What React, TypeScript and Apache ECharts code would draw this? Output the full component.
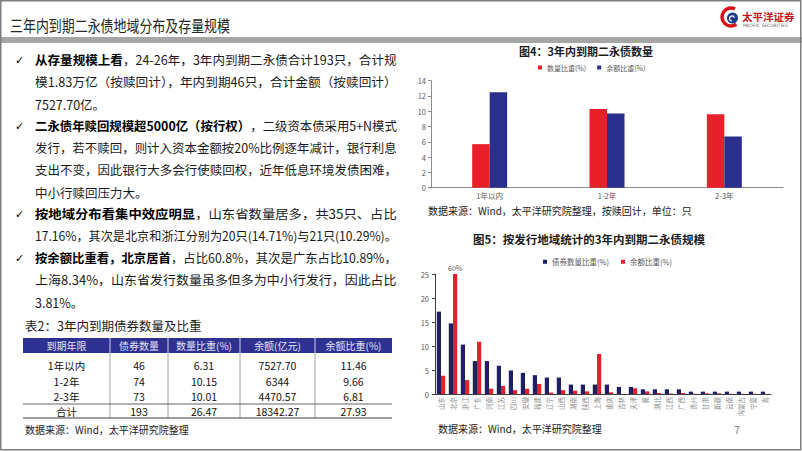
import React, { useEffect, useRef } from 'react';
import * as echarts from 'echarts';

const FONT = '"Noto Sans CJK SC", "Noto Sans", sans-serif';

// ---------- Figure 4 data ----------
const fig4Categories = ['1年以内', '1-2年', '2-3年'];
const fig4CountShare = [5.7, 10.3, 9.6];
const fig4BalanceShare = [12.5, 9.7, 6.7];

// ---------- Figure 5 data ----------
const fig5Provinces = ['山东', '北京', '浙江', '广东', '河南', '江苏', '四川', '安徽', '福建', '辽宁', '山西', '湖南', '陕西', '上海', '重庆', '吉林', '天津', '冀', '湖北', '江西', '广西', '贵州', '甘肃', '新疆', '云南', '内蒙古', '宁夏', '青'];
const fig5CountShare = [17.16, 14.71, 10.29, 6.86, 6.86, 5.88, 4.9, 4.41, 3.92, 3.43, 3.43, 1.96, 1.96, 1.96, 1.96, 1.47, 1.47, 0.98, 0.98, 0.98, 0.98, 0.49, 0.49, 0.49, 0.49, 0.49, 0.49, 0.49];
const fig5BalanceShare = [3.81, 60.8, 2.9, 10.89, 1.1, 1.7, 0.8, 1.1, 2.1, 0.3, 0.8, 0.7, 0.55, 8.34, 0.35, 0.03, 1.2, 0.55, 0.2, 0.1, 0.2, 0.05, 0.15, 0.15, 0.04, 0.04, 0.03, 0.03];
const fig5YMax = 25;

// ---------- Table data ----------
const tableHeader = ['到期年限', '债券数量', '数量比重(%)', '余额(亿元)', '余额比重(%)'];
const tableTerms = ['1年以内', '1-2年', '2-3年', '合计'];
const tableCounts = ['46', '74', '73', '193'];
const tableCountShare = ['6.31', '10.15', '10.01', '26.47'];
const tableBalance = ['7527.70', '6344', '4470.57', '18342.27'];
const tableBalanceShare = ['11.46', '9.66', '6.81', '27.93'];

// ---------- Body text ----------
type Seg = { t: string; b?: boolean };
type Line = { segs: Seg[]; check?: boolean; justify: boolean };
const bodyLines: Line[] = [
  { check: true, justify: true, segs: [{ t: '从存量规模上看', b: true }, { t: '，24-26年，3年内到期二永债合计193只，合计规' }] },
  { justify: true, segs: [{ t: '模1.83万亿（按赎回计），年内到期46只，合计金额（按赎回计）' }] },
  { justify: false, segs: [{ t: '7527.70亿。' }] },
  { check: true, justify: true, segs: [{ t: '二永债年赎回规模超5000亿（按行权）', b: true }, { t: '，二级资本债采用5+N模式' }] },
  { justify: true, segs: [{ t: '发行，若不赎回，则计入资本金额按20%比例逐年减计，银行利息' }] },
  { justify: true, segs: [{ t: '支出不变，因此银行大多会行使赎回权，近年低息环境发债困难，' }] },
  { justify: false, segs: [{ t: '中小行赎回压力大。' }] },
  { check: true, justify: true, segs: [{ t: '按地域分布看集中效应明显', b: true }, { t: '，山东省数量居多，共35只、占比' }] },
  { justify: true, segs: [{ t: '17.16%，其次是北京和浙江分别为20只(14.71%)与21只(10.29%)。' }] },
  { check: true, justify: true, segs: [{ t: '按余额比重看，北京居首', b: true }, { t: '，占比60.8%，其次是广东占比10.89%，' }] },
  { justify: true, segs: [{ t: '上海8.34%，山东省发行数量虽多但多为中小行发行，因此占比' }] },
  { justify: false, segs: [{ t: '3.81%。' }] },
];

const RED = '#E8202A';
const BLUE4 = '#2B2E8C';
const NAVY5 = '#1E1F66';

function measure(segs: Seg[], size: number): number {
  const c = document.createElement('canvas').getContext('2d');
  if (!c) return 0;
  let w = 0;
  for (const s of segs) {
    c.font = `${s.b ? 'bold' : 'normal'} ${size}px "Noto Sans CJK SC"`;
    w += c.measureText(s.t).width;
  }
  return w;
}

function buildGraphics(): any[] {
  const g: any[] = [];
  // frame
  g.push({ type: 'rect', shape: { x: 0.75, y: 0.75, width: 800, height: 449 }, style: { fill: 'none', stroke: '#7f7f7f', lineWidth: 1.5 }, z: 100 });
  // title
  const titleText = '三年内到期二永债地域分布及存量规模';
  const tSize = 16;
  const tW = measure([{ t: titleText }], tSize) || 272;
  g.push({ type: 'text', x: 10, y: 25, scaleX: 220 / tW, style: { text: titleText, fontSize: tSize, fontFamily: FONT, fill: '#262626', verticalAlign: 'middle' } });
  // gray band
  g.push({ type: 'rect', shape: { x: 0, y: 37, width: 802, height: 6 }, style: { fill: '#A6A6A6' } });
  // logo
  g.push({ type: 'arc', shape: { cx: 731, cy: 17, r: 9, startAngle: Math.PI * 0.3, endAngle: Math.PI * 1.65 }, style: { stroke: '#D7141A', lineWidth: 3.5, fill: 'none' } });
  g.push({ type: 'circle', shape: { cx: 732.5, cy: 18, r: 5.5 }, style: { fill: '#1E3C8C' } });
  g.push({ type: 'arc', shape: { cx: 732, cy: 18.5, r: 2.5, startAngle: Math.PI * 0.5, endAngle: Math.PI * 1.9 }, style: { stroke: '#fff', lineWidth: 1.2, fill: 'none' } });
  g.push({ type: 'text', x: 742, y: 16, style: { text: '太平洋证券', fontSize: 10.5, fontWeight: 'bold', fontFamily: FONT, fill: '#C8161D', verticalAlign: 'middle' } });
  g.push({ type: 'text', x: 743, y: 25, style: { text: 'PACIFIC SECURITIES', fontSize: 4.5, fontFamily: 'DejaVu Sans', fill: '#666', verticalAlign: 'middle' } });

  // body text
  const size = 12.5;
  const y0 = 60;
  const dy = 22;
  const target = 362;
  bodyLines.forEach((ln, i) => {
    const y = y0 + i * dy;
    if (ln.check) {
      g.push({ type: 'text', x: 15, y, style: { text: '✓', fontSize: 11, fontFamily: '"DejaVu Sans"', fill: '#000', verticalAlign: 'middle' } });
    }
    const w = measure(ln.segs, size);
    let sx = 1;
    if (ln.justify && w > 0) sx = Math.max(0.85, Math.min(1.15, target / w));
    const text = ln.segs.map((s) => (s.b ? `{b|${s.t}}` : s.t)).join('');
    g.push({
      type: 'text', x: 35, y, scaleX: sx,
      style: {
        text, fontSize: size, fontFamily: FONT, fill: '#1a1a1a', verticalAlign: 'middle',
        rich: { b: { fontSize: size, fontFamily: FONT, fontWeight: 'bold', fill: '#000' } },
      },
    });
  });

  // table
  g.push({ type: 'text', x: 25, y: 325, style: { text: '表2：3年内到期债券数量及比重', fontSize: 12.5, fontFamily: FONT, fill: '#1a1a1a', verticalAlign: 'middle' } });
  const colX = [23, 110, 168, 240, 315, 392];
  const hTop = 338, hBot = 353;
  g.push({ type: 'rect', shape: { x: colX[0], y: hTop, width: colX[5] - colX[0], height: hBot - hTop }, style: { fill: '#2E3192' } });
  for (let c = 1; c < 5; c++) {
    g.push({ type: 'line', shape: { x1: colX[c], y1: hTop, x2: colX[c], y2: hBot }, style: { stroke: '#ffffff', lineWidth: 0.8 } });
    g.push({ type: 'line', shape: { x1: colX[c], y1: hBot, x2: colX[c], y2: 418 }, style: { stroke: '#8c8c8c', lineWidth: 0.8 } });
  }
  tableHeader.forEach((h, c) => {
    g.push({ type: 'text', x: (colX[c] + colX[c + 1]) / 2, y: (hTop + hBot) / 2, style: { text: h, fontSize: 10, fontFamily: FONT, fill: '#E2E2F4', align: 'center', verticalAlign: 'middle' } });
  });
  const rowY = [365, 381, 396, 411.5];
  const cols = [tableTerms, tableCounts, tableCountShare, tableBalance, tableBalanceShare];
  rowY.forEach((y, r) => {
    cols.forEach((col, c) => {
      g.push({ type: 'text', x: (colX[c] + colX[c + 1]) / 2, y, style: { text: col[r], fontSize: 10.5, fontFamily: FONT, fill: '#111', align: 'center', verticalAlign: 'middle' } });
    });
  });
  g.push({ type: 'line', shape: { x1: colX[0], y1: 404, x2: colX[5], y2: 404 }, style: { stroke: '#404040', lineWidth: 0.8 } });
  g.push({ type: 'line', shape: { x1: colX[0], y1: 418, x2: colX[5], y2: 418 }, style: { stroke: '#404040', lineWidth: 1 } });
  g.push({ type: 'text', x: 25, y: 429, style: { text: '数据来源：Wind，太平洋研究院整理', fontSize: 10, fontFamily: FONT, fill: '#1a1a1a', verticalAlign: 'middle' } });

  // figure titles & sources
  g.push({ type: 'text', x: 586, y: 51, style: { text: '图4：3年内到期二永债数量', fontSize: 11, fontWeight: 'bold', fontFamily: FONT, fill: '#1a1a1a', align: 'center', verticalAlign: 'middle' } });
  g.push({ type: 'text', x: 428, y: 210, style: { text: '数据来源：Wind，太平洋研究院整理，按赎回计，单位：只', fontSize: 10, fontFamily: FONT, fill: '#1a1a1a', verticalAlign: 'middle' } });
  g.push({ type: 'text', x: 589, y: 239, style: { text: '图5：按发行地域统计的3年内到期二永债规模', fontSize: 11.5, fontWeight: 'bold', fontFamily: FONT, fill: '#1a1a1a', align: 'center', verticalAlign: 'middle' } });
  g.push({ type: 'text', x: 438, y: 428, style: { text: '数据来源：Wind，太平洋研究院整理', fontSize: 10, fontFamily: FONT, fill: '#1a1a1a', verticalAlign: 'middle' } });
  g.push({ type: 'text', x: 737, y: 429, style: { text: '7', fontSize: 11, fontFamily: FONT, fill: '#8c8c8c', align: 'center', verticalAlign: 'middle' } });
  return g;
}

function buildOption(): any {
  const legendText = { fontSize: 7, color: '#595959', fontFamily: FONT };
  return {
    animation: false,
    backgroundColor: '#ffffff',
    textStyle: { fontFamily: FONT },
    legend: [
      {
        left: 538, top: 64, padding: 0, itemWidth: 4, itemHeight: 4, itemGap: 11, icon: 'rect',
        data: ['数量比重(%)', '余额比重(%)'], textStyle: legendText,
      },
      {
        left: 543, top: 258, padding: 0, itemWidth: 4, itemHeight: 4, itemGap: 12, icon: 'rect',
        data: ['债券数量比重(%)', 'fig5余额'], textStyle: { ...legendText, fontSize: 7.5 },
        formatter: (n: string) => (n === 'fig5余额' ? '余额比重(%)' : n),
      },
    ],
    grid: [
      { left: 431, top: 80.7, width: 352, height: 107 },
      { left: 435, top: 274, width: 336, height: 120 },
    ],
    xAxis: [
      {
        type: 'category', gridIndex: 0, data: fig4Categories,
        axisLine: { lineStyle: { color: '#8c8c8c' } },
        axisTick: { length: 3, lineStyle: { color: '#8c8c8c' } },
        axisLabel: { fontSize: 7.5, color: '#595959', margin: 4 },
      },
      {
        type: 'category', gridIndex: 1, data: fig5Provinces,
        axisLine: { lineStyle: { color: '#404040' } },
        axisTick: { length: 2, lineStyle: { color: '#404040' } },
        axisLabel: { rotate: 90, fontSize: 6.5, color: '#8c8c8c', margin: 3, interval: 0 },
      },
    ],
    yAxis: [
      {
        type: 'value', gridIndex: 0, min: 0, max: 14, interval: 2,
        splitLine: { show: false },
        axisLine: { show: true, lineStyle: { color: '#8c8c8c' } },
        axisTick: { show: true, length: 3, lineStyle: { color: '#8c8c8c' } },
        axisLabel: { fontSize: 7.5, color: '#595959', margin: 5 },
      },
      {
        type: 'value', gridIndex: 1, min: 0, max: fig5YMax, interval: 5,
        splitLine: { show: false },
        axisLine: { show: true, lineStyle: { color: '#404040' } },
        axisTick: { show: true, length: 3, lineStyle: { color: '#404040' } },
        axisLabel: { fontSize: 7.5, color: '#595959', margin: 6 },
      },
    ],
    series: [
      {
        name: '数量比重(%)', type: 'bar', xAxisIndex: 0, yAxisIndex: 0,
        data: fig4CountShare, itemStyle: { color: RED }, barWidth: 17.5, barGap: '0%',
      },
      {
        name: '余额比重(%)', type: 'bar', xAxisIndex: 0, yAxisIndex: 0,
        data: fig4BalanceShare, itemStyle: { color: BLUE4 }, barWidth: 17.5, barGap: '0%',
      },
      {
        name: '债券数量比重(%)', type: 'bar', xAxisIndex: 1, yAxisIndex: 1,
        data: fig5CountShare, itemStyle: { color: NAVY5 }, barWidth: 4.2, barGap: '0%',
      },
      {
        name: 'fig5余额', type: 'bar', xAxisIndex: 1, yAxisIndex: 1,
        data: fig5BalanceShare.map((v) => Math.min(v, fig5YMax)),
        itemStyle: { color: RED }, barWidth: 4.2, barGap: '0%',
        label: {
          show: true, position: 'top', distance: 3, fontSize: 7, color: '#595959',
          formatter: (p: any) => {
            const raw = fig5BalanceShare[p.dataIndex];
            return raw > fig5YMax ? `${Math.floor(raw)}%` : '';
          },
        },
      },
    ],
    graphic: buildGraphics(),
  };
}

export default function App() {
  const ref = useRef<HTMLDivElement>(null);
  useEffect(() => {
    document.body.style.margin = '0';
    const chart = echarts.init(ref.current as HTMLDivElement, null, { renderer: 'svg' });
    chart.setOption(buildOption());
    return () => chart.dispose();
  }, []);
  return <div ref={ref} style={{ width: 802, height: 451 }} />;
}
